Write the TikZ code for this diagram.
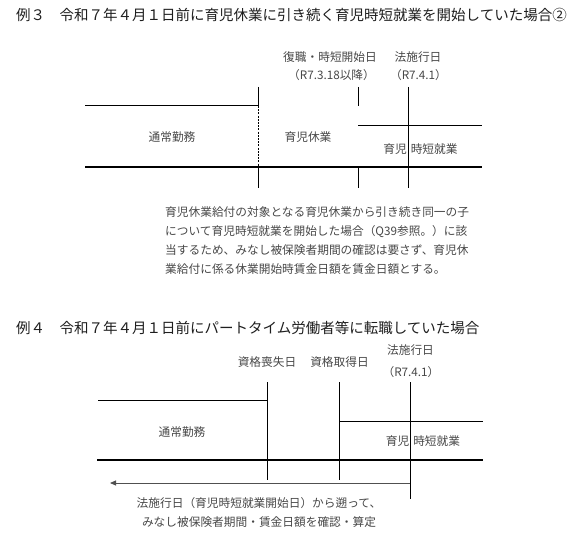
\documentclass[tikz,border=0pt]{standalone}
\usepackage{fontspec}
\setmainfont{Noto Sans CJK JP}
\usetikzlibrary{arrows.meta}
\definecolor{ttlcol}{HTML}{1E1E1E}
\definecolor{txtcol}{HTML}{474747}
\definecolor{arrcol}{HTML}{505050}
\XeTeXinterchartokenstate=1
\newcommand\jglue{\hskip0pt plus 1pt\relax}
\XeTeXinterchartoks 1 1 = {\jglue}
\XeTeXinterchartoks 1 2 = {\jglue}
\XeTeXinterchartoks 1 3 = {\jglue}
\XeTeXinterchartoks 2 1 = {\jglue}
\XeTeXinterchartoks 3 1 = {\jglue}
\XeTeXinterchartoks 3 2 = {\jglue}
\XeTeXinterchartoks 3 3 = {\jglue}
\XeTeXinterchartoks 0 1 = {\jglue}
\XeTeXinterchartoks 1 0 = {\jglue}
\XeTeXinterchartoks 0 3 = {\jglue}
\XeTeXinterchartoks 2 0 = {\jglue}
\begin{document}
\begin{tikzpicture}[x=1pt,y=-1pt,
  ttl/.style={anchor=west, inner sep=0pt, font=\fontsize{14.5pt}{17pt}\selectfont, text=ttlcol, text height=12.76pt, text depth=1.74pt},
  lbl/.style={inner sep=0pt, font=\fontsize{11.7pt}{14pt}\selectfont, text=txtcol, text height=10.3pt, text depth=1.4pt},
  para/.style={lbl, anchor=west},
  ln/.style={line width=1pt, draw=black},
  base/.style={line width=2.8pt, draw=black},
  dsh/.style={line width=1pt, draw=black, dash pattern=on 2pt off 1.2pt},
  arr/.style={line width=0.9pt, draw=arrcol, -{Triangle[length=6pt,width=5pt]}}]
\useasboundingbox (0,0) rectangle (583,545);

% ===== Example 3 =====
\node[ttl] (t3) at (16,15) {例３　令和７年４月１日前に育児休業に引き続く育児時短就業を開始していた場合②};
\node[lbl] (l3a) at (330,57) {復職・時短開始日};
\node[lbl] (l3b) at (331.5,75) {（R7.3.18以降）};
\node[lbl] (l3c) at (418,57) {法施行日};
\node[lbl] (l3d) at (418.5,75) {（R7.4.1）};
\node[lbl] (w3) at (172,137) {通常勤務};
\node[lbl] (k3) at (308,137) {育児休業};
\node[lbl] (s3) at (420.5,149) {育児\hspace{4pt}時短就業};

\coordinate (a1) at (85,106);  \coordinate (a2) at (258,106);
\coordinate (b1) at (85,167);  \coordinate (b2) at (482,167);
\coordinate (c1) at (358,126); \coordinate (c2) at (482,126);
\coordinate (p1) at (258,87);  \coordinate (p2) at (258,167); \coordinate (p3) at (258,188);
\coordinate (q1) at (358,87);  \coordinate (q2) at (358,106);
\coordinate (q3) at (358,168); \coordinate (q4) at (358,188);
\coordinate (r1) at (408,87);  \coordinate (r2) at (408,188);

\draw[ln] (a1) -- (a2);
\draw[ln] (c1) -- (c2);
\draw[base] (b1) -- (b2);
\draw[ln] (p1) -- (a2);
\draw[dsh] (a2) -- (p2);
\draw[ln] (p2) -- (p3);
\draw[ln] (q1) -- (q2);
\draw[ln] (q3) -- (q4);
\draw[ln] (r1) -- (r2);

\node[para] (m1) at (165,212.5) {\hbox to 325pt{育児休業給付の対象となる育児休業から引き続き同一の子}};
\node[para] (m2) at (165,231.5) {\hbox to 325pt{について育児時短就業を開始した場合（Q39参照。）に該}};
\node[para] (m3) at (165,250.5) {\hbox to 325pt{当するため、みなし被保険者期間の確認は要さず、育児休}};
\node[para] (m4) at (165,269.5) {業給付に係る休業開始時賃金日額を賃金日額とする。};

% ===== Example 4 =====
\node[ttl] (t4) at (16,328) {例４　令和７年４月１日前にパートタイム労働者等に転職していた場合};
\node[lbl] (l4a) at (267,362) {資格喪失日};
\node[lbl] (l4b) at (339.5,362) {資格取得日};
\node[lbl] (l4c) at (410.5,350) {法施行日};
\node[lbl] (l4d) at (411,372) {（R7.4.1）};
\node[lbl] (w4) at (182,432) {通常勤務};
\node[lbl] (s4) at (423,441) {育児\hspace{4pt}時短就業};

\coordinate (d1) at (98,400);  \coordinate (d2) at (267,400);
\coordinate (e1) at (97,460);  \coordinate (e2) at (483,460);
\coordinate (f1) at (339,421); \coordinate (f2) at (483,421);
\coordinate (g1) at (267,382); \coordinate (g2) at (267,480);
\coordinate (h1) at (339,382); \coordinate (h2) at (339,480);
\coordinate (i1) at (410,382); \coordinate (i2) at (410,499);
\coordinate (j1) at (410,483); \coordinate (j2) at (110,483);

\draw[ln] (d1) -- (d2);
\draw[ln] (f1) -- (f2);
\draw[base] (e1) -- (e2);
\draw[ln] (g1) -- (g2);
\draw[ln] (h1) -- (h2);
\draw[ln] (i1) -- (i2);
\draw[arr] (j1) -- (j2);

\node[lbl] (n1) at (259,503) {法施行日（育児時短就業開始日）から遡って、};
\node[lbl] (n2) at (259,522) {みなし被保険者期間・賃金日額を確認・算定};
\end{tikzpicture}
\end{document}
